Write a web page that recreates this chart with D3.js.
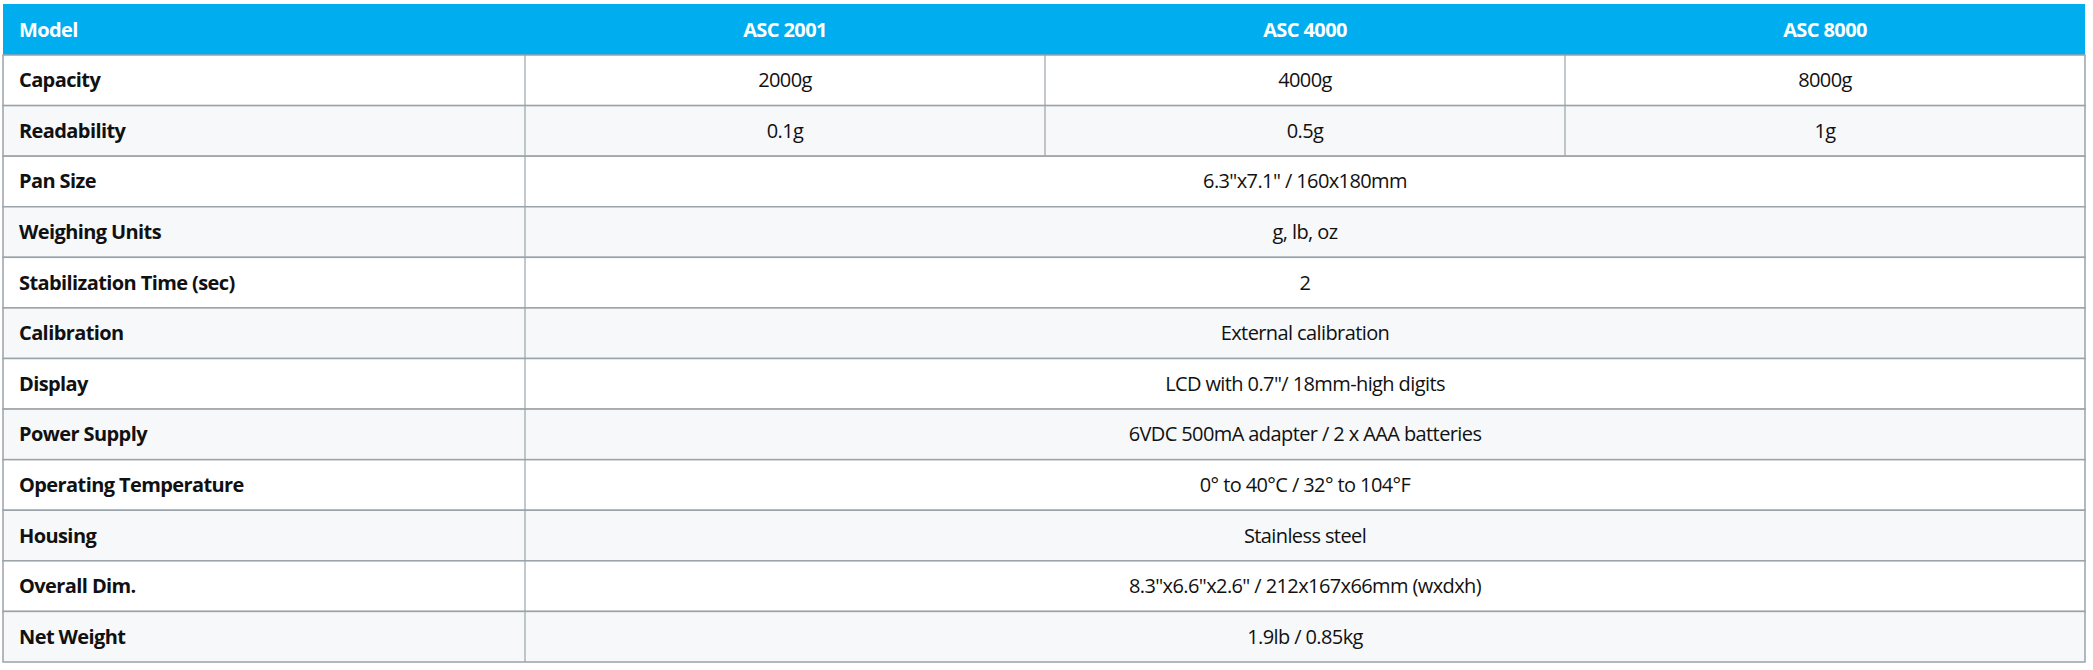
<!DOCTYPE html>
<html><head><meta charset="utf-8">
<script src="https://cdn.jsdelivr.net/npm/d3@7"></script>
<style>body{margin:0;background:#fff}</style></head>
<body><svg id="c" width="2093" height="670"></svg>
<script>
const models = ["ASC 2001", "ASC 4000", "ASC 8000"];
const headerLabel = "Model";
const rowLabels = ["Capacity","Readability","Pan Size","Weighing Units","Stabilization Time (sec)","Calibration","Display","Power Supply","Operating Temperature","Housing","Overall Dim.","Net Weight"];
const capacity = ["2000g","4000g","8000g"];
const readability = ["0.1g","0.5g","1g"];
const sharedValues = ["6.3\"x7.1\" / 160x180mm","g, lb, oz","2","External calibration","LCD with 0.7\"/ 18mm-high digits","6VDC 500mA adapter / 2 x AAA batteries","0° to 40°C / 32° to 104°F","Stainless steel","8.3\"x6.6\"x2.6\" / 212x167x66mm (wxdxh)","1.9lb / 0.85kg"];

(function(){
const svg = d3.select("#c");
const font = "'Open Sans', 'Noto Sans', sans-serif";
const L = 3, R = 2085, C1 = 525, T0 = 4, hH = 51, B = 662;
const x = d3.scaleBand().domain(models).range([C1, R]);
const y = d3.scaleBand().domain(rowLabels).range([T0 + hH, B]);
const rows = rowLabels.map((r, i) => ({label: r, vals: i === 0 ? capacity : i === 1 ? readability : [sharedValues[i - 2]]}));

svg.append("rect").attr("x", L).attr("y", T0).attr("width", R - L).attr("height", hH).attr("fill", "#00aeef");
svg.append("text").attr("x", L + 16).attr("y", T0 + hH / 2).attr("dy", "0.35em")
  .attr("font-family", font).attr("font-weight", 700).attr("font-size", 20).attr("fill", "#fff").attr("letter-spacing", -0.6).text(headerLabel);
svg.selectAll(".hm").data(models).join("text")
  .attr("x", d => x(d) + x.bandwidth() / 2).attr("y", T0 + hH / 2).attr("dy", "0.35em").attr("text-anchor", "middle")
  .attr("font-family", font).attr("font-weight", 700).attr("font-size", 20).attr("fill", "#fff").attr("letter-spacing", -0.6).text(d => d);

const g = svg.selectAll(".row").data(rows).join("g").attr("transform", d => `translate(0,${y(d.label)})`);
g.append("rect").attr("x", L).attr("width", R - L).attr("height", y.bandwidth())
  .attr("fill", (d, i) => i % 2 ? "#f6f8fa" : "#fff").attr("stroke", "#9aa3a9").attr("stroke-width", 1.5);
g.append("text").attr("x", L + 16).attr("y", y.bandwidth() / 2).attr("dy", "0.35em")
  .attr("font-family", font).attr("font-weight", 700).attr("font-size", 20).attr("fill", "#111").attr("letter-spacing", -0.6).text(d => d.label);
g.append("line").attr("x1", C1).attr("x2", C1).attr("y1", 0).attr("y2", y.bandwidth()).attr("stroke", "#9aa3a9").attr("stroke-width", 1.2);
g.each(function(d) {
  const s = d3.select(this);
  if (d.vals.length === 3) {
    models.slice(1).forEach(m => s.append("line").attr("x1", x(m)).attr("x2", x(m)).attr("y1", 0).attr("y2", y.bandwidth()).attr("stroke", "#9aa3a9").attr("stroke-width", 1.2));
    s.selectAll(".v").data(d.vals).join("text").attr("x", (v, j) => x(models[j]) + x.bandwidth() / 2)
      .attr("y", y.bandwidth() / 2).attr("dy", "0.35em").attr("text-anchor", "middle")
      .attr("font-family", font).attr("font-size", 20).attr("fill", "#111").attr("letter-spacing", -0.6).text(v => v);
  } else {
    s.append("text").attr("x", (C1 + R) / 2).attr("y", y.bandwidth() / 2).attr("dy", "0.35em").attr("text-anchor", "middle")
      .attr("font-family", font).attr("font-size", 20).attr("fill", "#111").attr("letter-spacing", -0.6).text(d.vals[0]);
  }
});
})();
</script></body></html>
